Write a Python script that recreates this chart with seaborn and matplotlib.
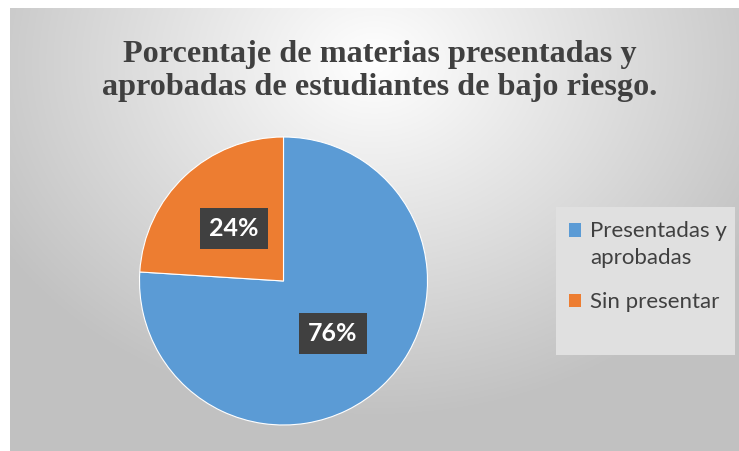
import numpy as np
import matplotlib
matplotlib.use("Agg")
import matplotlib.pyplot as plt
import seaborn as sns
from matplotlib.patches import Patch, Rectangle
from matplotlib.legend_handler import HandlerPatch

categories = ["Presentadas y\naprobadas", "Sin presentar"]
values = [76, 24]
colors = ["#5B9BD5", "#ED7D31"]
title = "Porcentaje de materias presentadas y\naprobadas de estudiantes de bajo riesgo."

sns.set_theme(style="white")
plt.rcParams['font.family'] = ['Lato', 'DejaVu Sans']

W, H = 739, 451
fig = plt.figure(figsize=(W / 100, H / 100), dpi=100)
fig.patch.set_facecolor("white")

# background gradient panel
bg = fig.add_axes([10 / W, 0, (W - 10) / W, (H - 8) / H])
bg.set_axis_off()
yy, xx = np.mgrid[0:1:300j, 0:1:500j]
d = np.sqrt(((xx - 0.5) / 0.75) ** 2 + ((yy - 0.12) / 1.0) ** 2)
g = np.clip(1.0 - 0.30 * d, 0.76, 1.0)
bg.imshow(np.dstack([g, g, g]), extent=[0, 1, 0, 1], origin="upper", aspect="auto")
bg.set_xlim(0, 1)
bg.set_ylim(0, 1)

# pie
cx, cy, r = 283.5, 281, 144
ax = fig.add_axes([(cx - r) / W, (H - cy - r) / H, 2 * r / W, 2 * r / H])
wedges, texts, autotexts = ax.pie(
    values, colors=colors, startangle=90, counterclock=False,
    autopct=lambda p: f"{p:.0f}%", pctdistance=0.5,
    wedgeprops=dict(linewidth=0.8, edgecolor="white"),
    textprops=dict(color="white", fontsize=18, fontweight="bold"))
for t in autotexts:
    t.set_bbox(dict(boxstyle="square,pad=0.36", facecolor="#404040", edgecolor="none"))
ax.set_xlim(-1, 1)
ax.set_ylim(-1, 1)
ax.set_aspect("equal")

# title
fig.text(380 / W, 1 - 71 / H, title, ha="center", va="center",
         fontsize=23.2, fontweight="bold", color="#404040",
         family=["Liberation Serif", "DejaVu Serif"], linespacing=1.22)

# legend background
fig.add_artist(Rectangle((556 / W, 1 - 355 / H), (735 - 556) / W, (355 - 207) / H,
                         transform=fig.transFigure, facecolor="#E0E0E0",
                         edgecolor="none", zorder=2))
handles = [Patch(facecolor=c, edgecolor="none") for c in colors]


def raised(legend, orig_handle, xdescent, ydescent, width, height, fontsize):
    return Rectangle((-xdescent, -ydescent + 10.5), width, height)


leg = fig.legend(handles, categories, loc="upper left",
                 bbox_to_anchor=(551 / W, 1 - 203 / H),
                 frameon=False, fontsize=16,
                 handlelength=0.55, handleheight=0.55, handletextpad=0.4,
                 labelspacing=1.1, borderpad=0.3, labelcolor="#404040",
                 handler_map={handles[0]: HandlerPatch(patch_func=raised)})
leg.set_zorder(3)
for t in leg.get_texts():
    t.set_linespacing(1.45)

fig.savefig("out.png", dpi=100)
